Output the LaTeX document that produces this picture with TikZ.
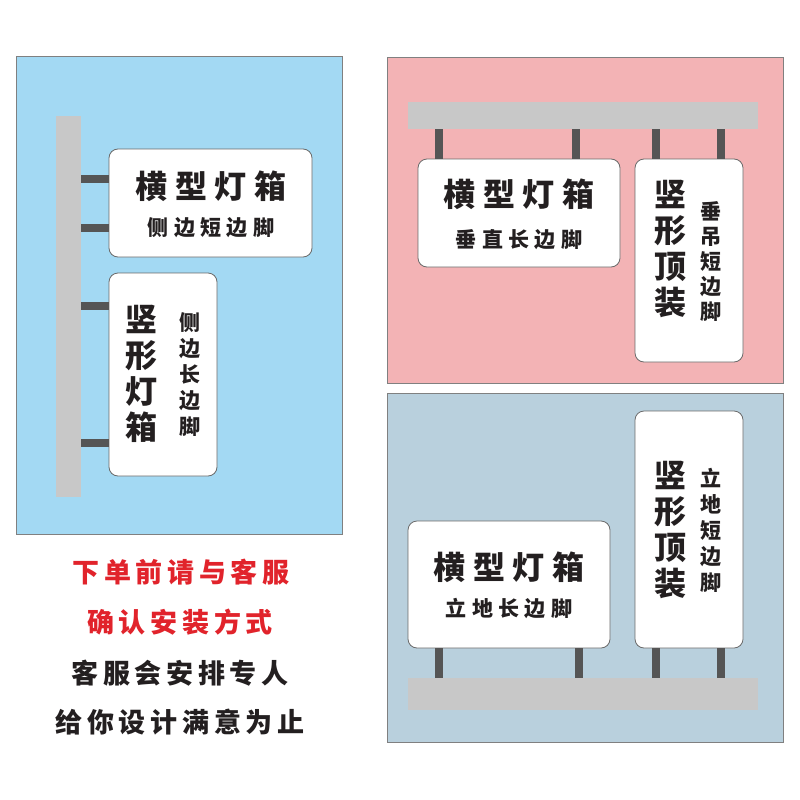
\documentclass[tikz,border=0pt]{standalone}
\usepackage{fontspec}
\newfontfamily\cjk{Noto Sans CJK SC}
\definecolor{pblue}{HTML}{A3D9F3}
\definecolor{ppink}{HTML}{F3B3B5}
\definecolor{pgray}{HTML}{B9D0DD}
\definecolor{framec}{HTML}{808080}
\definecolor{barc}{HTML}{C8C8C8}
\definecolor{postc}{HTML}{555555}
\definecolor{boxc}{HTML}{6A6A6A}
\definecolor{txt}{HTML}{231F20}
\definecolor{redt}{HTML}{E1232B}
\newcommand\kt{\kern7.5pt}
\newcommand\ks{\kern5.4pt}
\newcommand\kb{\kern4.7pt}
\tikzset{
  panel/.style={draw=framec, line width=0.8pt},
  barbox/.style={fill=barc, inner sep=0, minimum width=#1},
  sign/.style={draw=boxc, fill=white, rounded corners=9pt, line width=0.8pt, inner sep=0},
  post/.style={draw=postc, line width=8pt},
  title/.style={text=txt, inner sep=0, font=\cjk\bfseries\fontsize{32}{36}\selectfont},
  sub/.style={text=txt, inner sep=0, font=\cjk\bfseries\fontsize{21}{26}\selectfont},
  vtitle/.style={text=txt, inner sep=0, align=center, font=\cjk\bfseries\fontsize{32}{36}\selectfont},
  vsub/.style={text=txt, inner sep=0, align=center, font=\cjk\bfseries\fontsize{21}{26}\selectfont},
  note/.style={inner sep=0, font=\cjk\bfseries\fontsize{27}{30}\selectfont},
}
\begin{document}
\begin{tikzpicture}[x=1pt,y=-1pt]
\useasboundingbox[fill=white] (0,0) rectangle (800,800);
% panels
\filldraw[panel, fill=pblue] (16,56) rectangle (342,534);
\filldraw[panel, fill=ppink] (387,57) rectangle (783,383);
\filldraw[panel, fill=pgray] (387,393) rectangle (783,742);

% ---- panel 1 ----
\node[barbox=25pt, minimum height=381pt] (bar1) at (68.5,306.5) {};
\node[sign, minimum width=203pt, minimum height=108pt] (b1a) at (210.5,203) {};
\node[sign, minimum width=108pt, minimum height=203pt] (b1b) at (163,374.5) {};
\coordinate (h1) at (0,179);
\coordinate (h2) at (0,228);
\coordinate (h3) at (0,306);
\coordinate (h4) at (0,443);
\draw[post] (bar1.east |- h1) -- (b1a.west |- h1);
\draw[post] (bar1.east |- h2) -- (b1a.west |- h2);
\draw[post] (bar1.east |- h3) -- (b1b.west |- h3);
\draw[post] (bar1.east |- h4) -- (b1b.west |- h4);
\node[title] (t1a) at (211,186) {横\kt 型\kt 灯\kt 箱};
\node[sub] (s1a) at (211,228) {侧\ks 边\ks 短\ks 边\ks 脚};
\node[vtitle] (t1b) at (141,374) {竖\\形\\灯\\箱};
\node[vsub] (s1b) at (190,375) {侧\\边\\长\\边\\脚};

% ---- panel 2 ----
\node[barbox=350pt, minimum height=27pt] (bar2) at (583,115.5) {};
\node[sign, minimum width=202pt, minimum height=108pt] (b2a) at (519,213) {};
\node[sign, minimum width=108pt, minimum height=203pt] (b2b) at (689,260.5) {};
\coordinate (v1) at (439,0);
\coordinate (v2) at (576,0);
\coordinate (v3) at (656,0);
\coordinate (v4) at (721,0);
\draw[post] (v1 |- bar2.south) -- (v1 |- b2a.north);
\draw[post] (v2 |- bar2.south) -- (v2 |- b2a.north);
\draw[post] (v3 |- bar2.south) -- (v3 |- b2b.north);
\draw[post] (v4 |- bar2.south) -- (v4 |- b2b.north);
\node[title] (t2a) at (519,194) {横\kt 型\kt 灯\kt 箱};
\node[sub] (s2a) at (519,240) {垂\ks 直\ks 长\ks 边\ks 脚};
\node[vtitle] (t2b) at (670,249) {竖\\形\\顶\\装};
\node[vsub, font=\cjk\bfseries\fontsize{21}{25}\selectfont] (s2b) at (711,262) {垂\\吊\\短\\边\\脚};

% ---- panel 3 ----
\node[barbox=350pt, minimum height=32pt] (bar3) at (583,694) {};
\node[sign, minimum width=202pt, minimum height=127pt] (b3a) at (509,584.5) {};
\node[sign, minimum width=108pt, minimum height=237pt] (b3b) at (689,529.5) {};
\coordinate (w1) at (439,0);
\coordinate (w2) at (579,0);
\coordinate (w3) at (656,0);
\coordinate (w4) at (721,0);
\draw[post] (w1 |- b3a.south) -- (w1 |- bar3.north);
\draw[post] (w2 |- b3a.south) -- (w2 |- bar3.north);
\draw[post] (w3 |- b3b.south) -- (w3 |- bar3.north);
\draw[post] (w4 |- b3b.south) -- (w4 |- bar3.north);
\node[title] (t3a) at (509,567) {横\kt 型\kt 灯\kt 箱};
\node[sub] (s3a) at (509,608) {立\ks 地\ks 长\ks 边\ks 脚};
\node[vtitle] (t3b) at (670,530) {竖\\形\\顶\\装};
\node[vsub] (s3b) at (711,530) {立\\地\\短\\边\\脚};

% ---- notes ----
\node[note, text=redt] (n1) at (181,572) {下\kb 单\kb 前\kb 请\kb 与\kb 客\kb 服};
\node[note, text=redt] (n2) at (180,622) {确\kb 认\kb 安\kb 装\kb 方\kb 式};
\node[note, text=txt] (n3) at (180,673) {客\kb 服\kb 会\kb 安\kb 排\kb 专\kb 人};
\node[note, text=txt] (n4) at (180,722) {给\kb 你\kb 设\kb 计\kb 满\kb 意\kb 为\kb 止};
\end{tikzpicture}
\end{document}
